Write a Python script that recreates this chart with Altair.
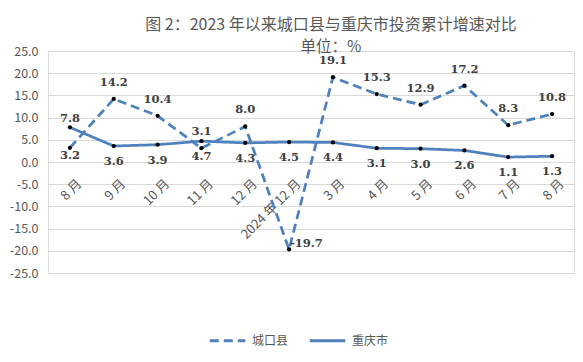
import altair as alt
import pandas as pd

months = ["8 月", "9 月", "10 月", "11 月", "12 月", "2024 年 12 月",
          "3 月", "4 月", "5 月", "6 月", "7 月", "8 月"]
chengkou = [3.2, 14.2, 10.4, 3.1, 8.0, -19.7, 19.1, 15.3, 12.9, 17.2, 8.3, 10.8]
chongqing = [7.8, 3.6, 3.9, 4.7, 4.3, 4.5, 4.4, 3.1, 3.0, 2.6, 1.1, 1.3]
series = ["城口县", "重庆市"]
y_ticks = [-25, -20, -15, -10, -5, 0, 5, 10, 15, 20, 25]

rows = []
for i, m in enumerate(months):
    rows.append(dict(idx=i, month=m, series=series[0], value=chengkou[i]))
    rows.append(dict(idx=i, month=m, series=series[1], value=chongqing[i]))
df = pd.DataFrame(rows)
df["label"] = df["value"].map(lambda v: f"{v:.1f}")

FONT = "Noto Sans CJK SC"
GRAY = "#595959"
BLUE = "#4f81bd"
W, H = 526, 222

label_expr = "[" + ",".join(f"'{m}'" for m in months) + "][datum.value]"

x = alt.X("idx:O", axis=alt.Axis(
    title=None, labelExpr=label_expr, labelAngle=-45, domain=False, ticks=False,
    grid=False, offset=-H / 2, labelFont=FONT, labelFontSize=13, labelColor=GRAY,
    labelAlign="right", labelBaseline="top", labelPadding=15, labelOffset=5))
y = alt.Y("value:Q", scale=alt.Scale(domain=[-25, 25], nice=False), axis=alt.Axis(
    title=None, values=y_ticks,
    labelExpr="replace(format(datum.value, '.1f'), '\u2212', '-')",
    domain=False, ticks=False, grid=True, gridColor="#d9d9d9", gridWidth=1,
    labelFont=FONT, labelFontSize=12.5, labelColor=GRAY, labelPadding=10))

base = alt.Chart(df)

lines = base.mark_line(color=BLUE, strokeWidth=2.75).encode(
    x=x, y=y,
    strokeDash=alt.StrokeDash("series:N", scale=alt.Scale(domain=series, range=[[9, 5], [1, 0]]),
                              legend=alt.Legend(
                                  title=None, orient="none", legendX=160, legendY=270,
                                  direction="horizontal", symbolType="stroke", symbolSize=1260,
                                  symbolStrokeWidth=3, symbolStrokeColor=BLUE,
                                  labelFont=FONT, labelFontSize=12, labelColor=GRAY,
                                  columnPadding=14, labelOffset=5)),
)

points = base.mark_circle(size=18, color="black", opacity=1).encode(x=x, y=y)

txt_kw = dict(font="DejaVu Serif", fontWeight="bold", fontSize=11.5, color="#404040")

above = base.transform_filter(
    "datum.series == '城口县' && datum.idx != 0 && datum.idx != 5"
).mark_text(dy=-16, baseline="middle", **txt_kw).encode(x=x, y=y, text="label:N")

below = base.transform_filter(
    "datum.series == '重庆市' && datum.idx != 0"
).mark_text(dy=16, baseline="middle", **txt_kw).encode(x=x, y=y, text="label:N")

first_above = base.transform_filter(
    "datum.series == '重庆市' && datum.idx == 0"
).mark_text(dy=-8, baseline="middle", **txt_kw).encode(x=x, y=y, text="label:N")

first_below = base.transform_filter(
    "datum.series == '城口县' && datum.idx == 0"
).mark_text(dy=8, baseline="middle", **txt_kw).encode(x=x, y=y, text="label:N")

right = base.transform_filter(
    "datum.series == '城口县' && datum.idx == 5"
).mark_text(dx=1, dy=-5, align="left", baseline="middle", **txt_kw).encode(x=x, y=y, text="label:N")

chart = alt.layer(lines, points, above, below, first_above, first_below, right).properties(
    width=W, height=H,
    autosize=alt.AutoSizeParams(type="none"),
    padding={"left": 40, "top": 43, "right": 1, "bottom": 80},
    title=alt.TitleParams(
        text="图 2：2023 年以来城口县与重庆市投资累计增速对比",
        subtitle="单位：%",
        font=FONT, fontSize=16, fontWeight="normal", color=GRAY,
        subtitleFont=FONT, subtitleFontSize=15.5, subtitleColor=GRAY,
        anchor="middle", dx=20, offset=-10, subtitlePadding=7),
).configure_view(stroke=None).configure(background="white")

chart.save("out.html", embed_options={"renderer": "svg", "actions": False})
